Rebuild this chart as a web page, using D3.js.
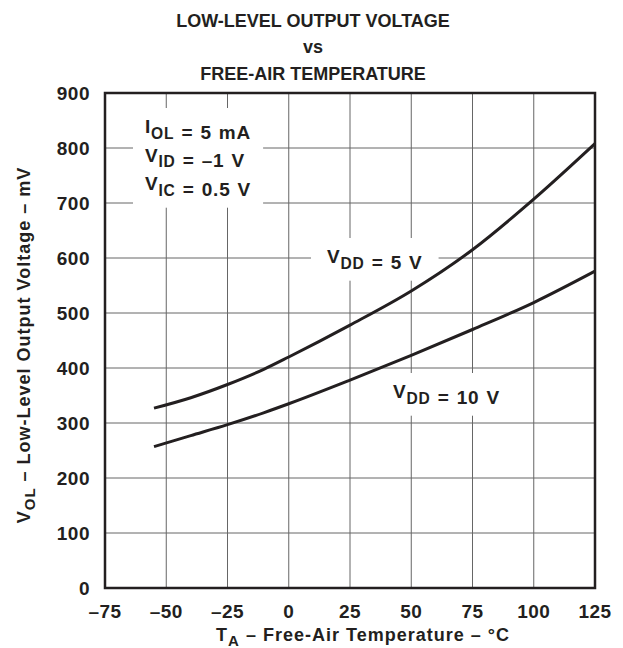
<!DOCTYPE html>
<html>
<head>
<meta charset="utf-8">
<script src="https://cdn.jsdelivr.net/npm/d3@7"></script>
<style>
  body { margin: 0; background: #fff; }
  text { font-family: "Liberation Sans", Arial, sans-serif; font-weight: bold; fill: #231f20; }
</style>
</head>
<body>
<div id="chart"></div>
<script>
// Low-level output voltage vs free-air temperature

const temps = [-55, -40, -25, -10, 0, 25, 50, 75, 100, 125];
const vdd5 = [327, 346, 370, 398, 420, 478, 540, 615, 707, 808];
const vdd10 = [257, 277, 297, 319, 335, 378, 423, 470, 519, 576];

const xTicks = [-75, -50, -25, 0, 25, 50, 75, 100, 125];
const yTicks = [0, 100, 200, 300, 400, 500, 600, 700, 800, 900];

const W = 623, H = 648;
const m = { left: 105, right: 595, top: 93, bottom: 588 };

const svg = d3.select("#chart")
  .append("svg")
  .attr("width", W)
  .attr("height", H);

const x = d3.scaleLinear().domain([-75, 125]).range([m.left, m.right]);
const y = d3.scaleLinear().domain([0, 900]).range([m.bottom, m.top]);

// grid
const grid = svg.append("g").attr("stroke", "#666").attr("stroke-width", 1);
grid.selectAll(".gx")
  .data(xTicks.slice(1, -1))
  .join("line")
    .attr("x1", d => x(d)).attr("x2", d => x(d))
    .attr("y1", m.top).attr("y2", m.bottom);
grid.selectAll(".gy")
  .data(yTicks.slice(1, -1))
  .join("line")
    .attr("y1", d => y(d)).attr("y2", d => y(d))
    .attr("x1", m.left).attr("x2", m.right);

// text with subscripts, slightly wide spacing like the original
function label(g, px, py, parts, size) {
  const t = g.append("text")
    .attr("x", px).attr("y", py)
    .style("font-size", size + "px")
    .style("letter-spacing", "0.8px")
    .style("word-spacing", "1px");
  parts.forEach(p => {
    if (p.sub) {
      t.append("tspan").attr("dy", size * 0.3).style("font-size", (size * 0.82) + "px").text(p.sub);
      t.append("tspan").attr("dy", -size * 0.3).text("");
    } else {
      t.append("tspan").text(p.t);
    }
  });
  return t;
}

// white patch behind a group of labels so the grid is broken there
function patch(g, ts, padX, padY) {
  let bx = Infinity, by = Infinity, bx2 = -Infinity, by2 = -Infinity;
  ts.forEach(t => {
    const b = t.node().getBBox();
    bx = Math.min(bx, b.x); by = Math.min(by, b.y);
    bx2 = Math.max(bx2, b.x + b.width); by2 = Math.max(by2, b.y + b.height);
  });
  g.insert("rect", "text")
    .attr("x", bx - padX).attr("y", by - padY)
    .attr("width", bx2 - bx + padX * 2).attr("height", by2 - by + padY * 2)
    .attr("fill", "#fff");
}

// condition box
const cond = svg.append("g");
const cl = [
  [{ t: "I" }, { sub: "OL" }, { t: " = 5 mA" }],
  [{ t: "V" }, { sub: "ID" }, { t: " = \u20131 V" }],
  [{ t: "V" }, { sub: "IC" }, { t: " = 0.5 V" }]
];
const condTexts = cl.map((p, i) => label(cond, 145, 133 + i * 28.5, p, 19));
patch(cond, condTexts, 12, 8);

const l5 = svg.append("g");
patch(l5, [label(l5, 327, 263, [{ t: "V" }, { sub: "DD" }, { t: " = 5 V" }], 19)], 16, 8);
const l10 = svg.append("g");
patch(l10, [label(l10, 393, 398, [{ t: "V" }, { sub: "DD" }, { t: " = 10 V" }], 19)], 16, 8);

// curves
const line = d3.line()
  .x((d, i) => x(temps[i]))
  .y(d => y(d))
  .curve(d3.curveMonotoneX);

[vdd5, vdd10].forEach(s => {
  svg.append("path")
    .datum(s)
    .attr("fill", "none")
    .attr("stroke", "#231f20")
    .attr("stroke-width", 3)
    .attr("d", line);
});

// frame
svg.append("rect")
  .attr("x", m.left).attr("y", m.top)
  .attr("width", m.right - m.left).attr("height", m.bottom - m.top)
  .attr("fill", "none")
  .attr("stroke", "#231f20")
  .attr("stroke-width", 2.5);

// tick labels
svg.append("g").selectAll("text")
  .data(xTicks)
  .join("text")
    .attr("x", d => x(d))
    .attr("y", 618)
    .attr("text-anchor", "middle")
    .style("font-size", "19px")
    .style("letter-spacing", "0.5px")
    .text(d => d < 0 ? "\u2013" + Math.abs(d) : d);

svg.append("g").selectAll("text")
  .data(yTicks)
  .join("text")
    .attr("x", 90)
    .attr("y", d => y(d) + 7)
    .attr("text-anchor", "end")
    .style("font-size", "19px")
    .style("letter-spacing", "0.5px")
    .text(d => d);

// axis titles
const xt = svg.append("text")
  .attr("x", 363).attr("y", 641)
  .attr("text-anchor", "middle")
  .style("font-size", "18px")
  .style("letter-spacing", "1px");
xt.append("tspan").text("T");
xt.append("tspan").attr("dy", 5).style("font-size", "15px").text("A");
xt.append("tspan").attr("dy", -5).text(" \u2013 Free-Air Temperature \u2013 \u00b0C");

const yt = svg.append("text")
  .attr("transform", "translate(30,345) rotate(-90)")
  .attr("text-anchor", "middle")
  .style("font-size", "18px")
  .style("letter-spacing", "1px");
yt.append("tspan").text("V");
yt.append("tspan").attr("dy", 5).style("font-size", "15px").text("OL");
yt.append("tspan").attr("dy", -5).text(" \u2013 Low-Level Output Voltage \u2013 mV");

// title
const title = ["LOW-LEVEL OUTPUT VOLTAGE", "vs", "FREE-AIR TEMPERATURE"];
svg.append("g").selectAll("text")
  .data(title)
  .join("text")
    .attr("x", 313)
    .attr("y", (d, i) => [26.5, 53, 80][i])
    .attr("text-anchor", "middle")
    .style("font-size", "18px")
    .text(d => d);
</script>
</body>
</html>
